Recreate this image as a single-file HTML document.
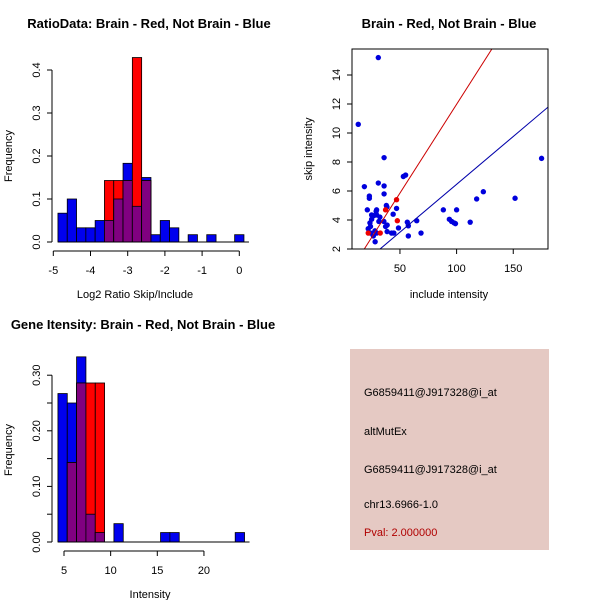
<!DOCTYPE html>
<html><head><meta charset="utf-8"><style>
body{margin:0;background:#fff}
svg{display:block;font-family:"Liberation Sans",sans-serif}
</style></head><body>
<svg id="s" width="600" height="600" viewBox="0 0 600 600">
<rect width="600" height="600" fill="#fff"/>
<text x="149" y="28" text-anchor="middle" font-size="13" font-weight="bold">RatioData: Brain - Red, Not Brain - Blue</text>
<text x="135" y="298" text-anchor="middle" font-size="11">Log2 Ratio Skip/Include</text>
<text transform="translate(12,156) rotate(-90)" text-anchor="middle" font-size="11">Frequency</text>
<text x="449" y="28" text-anchor="middle" font-size="13" font-weight="bold">Brain - Red, Not Brain - Blue</text>
<text x="449" y="298" text-anchor="middle" font-size="11">include intensity</text>
<text transform="translate(312,149) rotate(-90)" text-anchor="middle" font-size="11">skip intensity</text>
<text x="143" y="329" text-anchor="middle" font-size="13" font-weight="bold">Gene Itensity: Brain - Red, Not Brain - Blue</text>
<text x="150" y="598" text-anchor="middle" font-size="11">Intensity</text>
<text transform="translate(12,450) rotate(-90)" text-anchor="middle" font-size="11">Frequency</text>
<g>
<rect x="350" y="349" width="199" height="201" fill="#e5c9c3"/>
<text x="364" y="396" font-size="11">G6859411@J917328@i_at</text>
<text x="364" y="435" font-size="11">altMutEx</text>
<text x="364" y="473" font-size="11">G6859411@J917328@i_at</text>
<text x="364" y="508" font-size="11">chr13.6966-1.0</text>
<text x="364" y="536" font-size="11" fill="#b00000">Pval: 2.000000</text>
</g>
</svg>
<script>
const ratioBlue=[0.067,0.1,0.033,0.033,0.05,0.05,0.1,0.183,0.083,0.15,0.017,0.05,0.033,0,0.017,0,0.017,0,0,0.017];
const ratioRed=[0,0,0,0,0,0.143,0.143,0.143,0.429,0.143,0,0,0,0,0,0,0,0,0,0];
const ratioStart=-4.875, ratioWidth=0.25;
const ratioXTicks=[-5,-4,-3,-2,-1,0];
const ratioYTicks=[0,0.1,0.2,0.3,0.4];
const geneBlue=[0.267,0.25,0.333,0.05,0.017,0,0.033,0,0,0,0,0.017,0.017,0,0,0,0,0,0,0.017];
const geneRed=[0,0.143,0.286,0.286,0.286,0,0,0,0,0,0,0,0,0,0,0,0,0,0,0];
const geneStart=4.35, geneWidth=1;
const geneXTicks=[5,10,15,20];
const geneYTicks=[0,0.05,0.1,0.15,0.2,0.25,0.3];
const geneYLabels=["0.00","","0.10","","0.20","","0.30"];
const blueX=[30.9,13.2,36,175,53,55,18.6,30.9,36,36,23,23,123.6,117.7,151.6,38,38.5,21.2,29.4,29,47,44,88.3,100,93.6,95.6,97.8,99,112,64.8,56.5,57.4,25,25,27,32.3,29.4,23.5,24,37.3,38.7,35.8,22,27.9,29.4,24,26.5,38.7,42.6,44.6,48.7,57.4,68.6,28.1,31.4];
const blueY=[15.2,10.6,8.3,8.25,7.0,7.1,6.3,6.55,6.35,5.8,5.65,5.5,5.95,5.45,5.5,5.0,4.9,4.7,4.7,4.6,4.8,4.4,4.7,4.7,4.05,3.9,3.8,3.75,3.85,3.95,3.85,3.6,4.35,4.05,4.3,4.2,4.35,3.8,3.55,3.55,3.65,3.9,3.4,3.25,3.1,3.1,2.9,3.2,3.1,3.1,3.45,2.9,3.1,2.5,3.9];
const redX=[47,47.7,37.3,32.6,22];
const redY=[5.4,3.95,4.7,3.1,3.1];
const redFit=[-0.27,0.1225], blueFit=[-0.14,0.066];
const scXTicks=[50,100,150], scYTicks=[2,4,6,8,10,12,14];

const S=document.getElementById('s'),NS='http://www.w3.org/2000/svg';
function mk(t,a,name,p){const e=document.createElementNS(NS,t);for(const k in a)e.setAttribute(k,a[k]);


(p||S).appendChild(e);return e;}
function line(x1,y1,x2,y2,name,col){return mk('line',{x1,y1,x2,y2,stroke:col||'#000','stroke-width':1},name);}
function txt(x,y,s,name,o){const e=mk('text',Object.assign({x,y,'font-size':11,'text-anchor':'middle'},o||{}),name);e.textContent=s;return e;}

function hist(blue,red,start,w,X,Y,pre){
  for(let i=0;i<blue.length;i++){
    const x0=X(start+i*w),x1=X(start+(i+1)*w),b=blue[i],r=red[i],m=Math.min(b,r);
    if(b>0)mk('rect',{x:x0,y:Y(b),width:x1-x0,height:Y(0)-Y(b),fill:'#0000ee',stroke:'#000','stroke-width':0.8},pre+'-blue-bar-'+i);
    if(r>0)mk('rect',{x:x0,y:Y(r),width:x1-x0,height:Y(0)-Y(r),fill:'#ff0000',stroke:'#000','stroke-width':0.8},pre+'-red-bar-'+i);
    if(m>0)mk('rect',{x:x0,y:Y(m),width:x1-x0,height:Y(0)-Y(m),fill:'#800080',stroke:'#000','stroke-width':0.8},pre+'-overlap-bar-'+i);
  }
  line(X(start),Y(0),X(start+blue.length*w)+5,Y(0),pre+'-baseline');
}
{const X=v=>53.3+(v+5)*37.2, Y=v=>242-v*430;
hist(ratioBlue,ratioRed,ratioStart,ratioWidth,X,Y,'ratio');
line(X(-5),251,X(0),251,'ratio-x-axis');
ratioXTicks.forEach(t=>{line(X(t),251,X(t),256,'ratio-x-tick');txt(X(t),274,String(t),'ratio-x-label');});
line(52,Y(0),52,Y(0.4),'ratio-y-axis');
ratioYTicks.forEach(t=>{line(47,Y(t),52,Y(t),'ratio-y-tick');txt(0,0,t.toFixed(1),'ratio-y-label',{transform:`translate(40,${Y(t)}) rotate(-90)`});});}
{const X=v=>64+(v-5)*9.33, Y=v=>542-v*556;
hist(geneBlue,geneRed,geneStart,geneWidth,X,Y,'gene');
line(X(5),551,X(20),551,'gene-x-axis');
geneXTicks.forEach(t=>{line(X(t),551,X(t),556,'gene-x-tick');txt(X(t),574,String(t),'gene-x-label');});
line(52,Y(0),52,Y(0.3),'gene-y-axis');
geneYTicks.forEach((t,i)=>{line(47,Y(t),52,Y(t),'gene-y-tick');if(geneYLabels[i])txt(0,0,geneYLabels[i],'gene-y-label',{transform:`translate(40,${Y(t)}) rotate(-90)`});});}
{const X=v=>343.3+v*1.133, Y=v=>249-(v-2)*14.5;
const cp=mk('clipPath',{id:'cp'},'scatter-clip');mk('rect',{x:352,y:49,width:196,height:200},'clip-rect',cp);
blueX.forEach((v,i)=>mk('circle',{cx:X(v),cy:Y(blueY[i]),r:2.7,fill:'#0000dd'},'blue-point'));
redX.forEach((v,i)=>mk('circle',{cx:X(v),cy:Y(redY[i]),r:2.7,fill:'#ee0000'},'red-point'));
const g=mk('g',{'clip-path':'url(#cp)'},'fit-lines');
[[redFit,'#cc0000','red-fit-line'],[blueFit,'#0000aa','blue-fit-line']].forEach(([f,c,n])=>{
 mk('line',{x1:X(0),y1:Y(f[0]),x2:X(200),y2:Y(f[0]+f[1]*200),stroke:c,'stroke-width':1},n,g);});
mk('rect',{x:352,y:49,width:196,height:200,fill:'none',stroke:'#000'},'scatter-frame');
scXTicks.forEach(t=>{line(X(t),249,X(t),254,'scatter-x-tick');txt(X(t),272,String(t),'scatter-x-label');});
scYTicks.forEach(t=>{line(347,Y(t),352,Y(t),'scatter-y-tick');txt(0,0,String(t),'scatter-y-label',{transform:`translate(340,${Y(t)}) rotate(-90)`});});}
</script>
</body></html>
